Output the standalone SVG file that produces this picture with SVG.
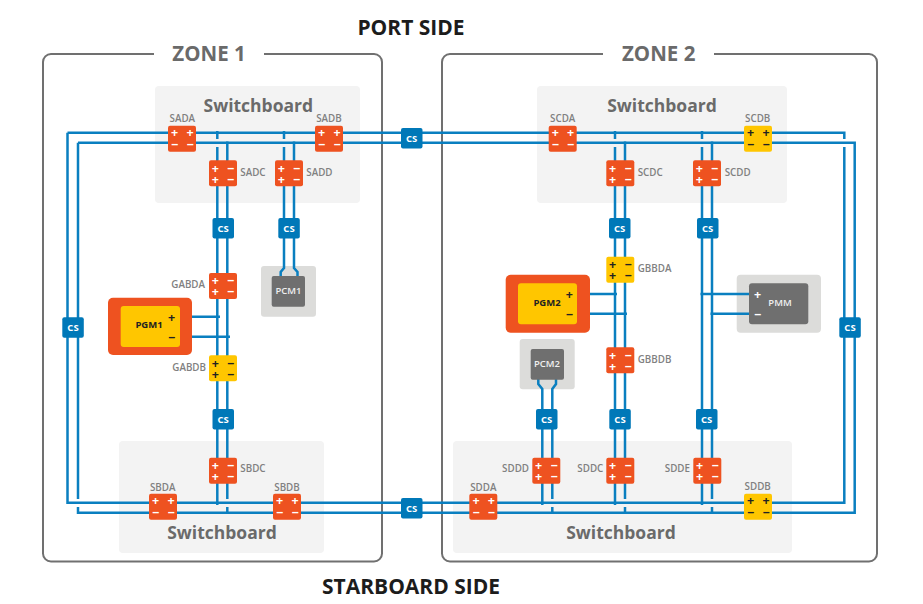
<svg xmlns="http://www.w3.org/2000/svg" width="923" height="604" viewBox="0 0 923 604">
<style>
text{font-family:"Open Sans","Noto Sans","Liberation Sans",sans-serif}
.zone{fill:none;stroke:#707070;stroke-width:2}
.sb{fill:#f3f3f3}
.sbt{font-size:17.5px;font-weight:700;fill:#6a6a6a;text-anchor:middle}
.zt{font-size:20.500px;font-weight:700;fill:#6a6a6a;text-anchor:middle}
.side{font-size:21px;font-weight:700;fill:#1c1c1c;text-anchor:middle}
.w{fill:none;stroke:#0a7fc0;stroke-width:2.5}
.or{fill:#ee5220}
.ye{fill:#ffc600}
.bl{fill:#0078b8}
.dk{fill:#6f6f6f}
.lg{fill:#dcdcda}
.l{font-size:9.800px;font-weight:600;fill:#808080}
.c{text-anchor:middle}
.e{text-anchor:end}
.p{font-size:12.500px;font-weight:700;text-anchor:middle;fill:#fff}
.k{fill:#222}
.cs{font-size:9.500px;font-weight:700;fill:#fff;text-anchor:middle}
.n{font-size:9.500px;font-weight:700;text-anchor:middle;fill:#222}
.m{font-size:9.500px;font-weight:600;text-anchor:middle;fill:#f0f0f0}
</style>
<text class="side" x="411" y="35">PORT SIDE</text>
<text class="side" x="411" y="594">STARBOARD SIDE</text>
<g id="zone1">
<path class="zone" d="M154 54H51a8 8 0 0 0-8 8V553.500a8 8 0 0 0 8 8H374a8 8 0 0 0 8-8V62a8 8 0 0 0-8-8H264"/>
<text class="zt" x="209" y="60.700">ZONE 1</text>
</g>
<g id="zone2">
<path class="zone" d="M603 54H450a8 8 0 0 0-8 8V553.500a8 8 0 0 0 8 8H869a8 8 0 0 0 8-8V62a8 8 0 0 0-8-8H714"/>
<text class="zt" x="658.700" y="60.700">ZONE 2</text>
</g>
<g id="switchboard-sa"><rect class="sb" x="155" y="86" width="205" height="117" rx="4"/><text class="sbt" x="258.300" y="112.300">Switchboard</text></g>
<g id="switchboard-sb"><rect class="sb" x="119" y="441" width="205" height="112" rx="4"/><text class="sbt" x="222" y="539.300">Switchboard</text></g>
<g id="switchboard-sc"><rect class="sb" x="537" y="86" width="250" height="117" rx="4"/><text class="sbt" x="662" y="112.300">Switchboard</text></g>
<g id="switchboard-sd"><rect class="sb" x="453" y="441" width="339" height="112" rx="4"/><text class="sbt" x="621" y="539.300">Switchboard</text></g>
<g id="PCM1-bg"><rect class="lg" x="261" y="266" width="55" height="50.700" rx="3"/></g>
<g id="PCM2-bg"><rect class="lg" x="519.700" y="339" width="55" height="50.300" rx="3"/></g>
<g id="PMM-bg"><rect class="lg" x="736.700" y="274.700" width="84.300" height="58" rx="4"/></g>
<g id="connectors">
<path class="w" d="M67.500 132.700H844.300V139M844.300 147V502.700H67.500V132.700"/>
<path class="w" d="M78 142.700H854.700V512.700H78V507M78 499V142.700"/>
<path class="w" d="M217.300 131V139M217.300 147V505M227.300 141.500V499M227.300 507V514"/>
<path class="w" d="M284 131V139M284 147V268L280.700 272V277M294 141.500V268L297.500 272V277"/>
<path class="w" d="M615 131V139M615 147V505M625 141.500V499M625 507V514"/>
<path class="w" d="M702 131V139M702 147V505M712 141.500V499M712 507V514"/>
<path class="w" d="M538.300 379V384L542.300 389V505M556 379V384L552.300 389V499M552.300 507V514"/>
<path class="w" d="M180 316.700H220M180 336.700H230"/>
<path class="w" d="M577 294H617M577 313.700H627"/>
<path class="w" d="M749 294H700.500M749 313.700H710.500"/>
</g>
<g id="PGM1"><rect class="or" x="108" y="297.700" width="84" height="57.300" rx="5"/><rect class="ye" x="120.700" y="306" width="59.300" height="41" rx="3"/><text class="n" x="149" y="328">PGM1</text><text class="p k" x="171.700" y="322">+</text><text class="p k" x="171.700" y="342">−</text></g>
<g id="PGM2"><rect class="or" x="505.700" y="274.700" width="84.300" height="58" rx="5"/><rect class="ye" x="518" y="283.300" width="59" height="41" rx="3"/><text class="n" x="547" y="306">PGM2</text><text class="p k" x="569.300" y="298.500">+</text><text class="p k" x="569.300" y="318.500">−</text></g>
<g id="PMM"><rect class="dk" x="749" y="283.300" width="59.300" height="41" rx="3"/><text class="m" x="780" y="306">PMM</text><text class="p" x="757.700" y="298.500">+</text><text class="p" x="757.700" y="318.500">−</text></g>
<g id="PCM1"><rect class="dk" x="271.700" y="276" width="33.300" height="30.700" rx="2"/><text class="m" x="288.500" y="294">PCM1</text></g>
<g id="PCM2"><rect class="dk" x="530.700" y="349" width="33.300" height="30.700" rx="2"/><text class="m" x="547" y="367.300">PCM2</text></g>
<g id="SADA"><rect class="or" x="168" y="125.700" width="28" height="26" rx="2"/><text class="p" x="174.700" y="137">+</text><text class="p" x="190" y="137">+</text><text class="p" x="174.700" y="148.500">−</text><text class="p" x="190" y="148.500">−</text><text class="l c" x="182.300" y="122">SADA</text></g>
<g id="SADB"><rect class="or" x="315" y="125.700" width="28" height="26" rx="2"/><text class="p" x="321.700" y="137">+</text><text class="p" x="337" y="137">+</text><text class="p" x="321.700" y="148.500">−</text><text class="p" x="337" y="148.500">−</text><text class="l c" x="329" y="122">SADB</text></g>
<g id="SADC"><rect class="or" x="209" y="160.300" width="28" height="26" rx="2"/><text class="p" x="215.300" y="172.500">+</text><text class="p" x="230.700" y="172.500">−</text><text class="p" x="215.300" y="183.500">+</text><text class="p" x="230.700" y="183.500">−</text><text class="l" x="240.300" y="175.700">SADC</text></g>
<g id="SADD"><rect class="or" x="275" y="160.300" width="28" height="26" rx="2"/><text class="p" x="281.300" y="172.500">+</text><text class="p" x="296.700" y="172.500">−</text><text class="p" x="281.300" y="183.500">+</text><text class="p" x="296.700" y="183.500">−</text><text class="l" x="306.300" y="175.700">SADD</text></g>
<g id="GABDA"><rect class="or" x="209" y="273" width="28" height="26" rx="2"/><text class="p" x="215.300" y="285.200">+</text><text class="p" x="230.700" y="285.200">−</text><text class="p" x="215.300" y="296.200">+</text><text class="p" x="230.700" y="296.200">−</text><text class="l e" x="205" y="288">GABDA</text></g>
<g id="GABDB"><rect class="ye" x="209" y="355.300" width="28" height="26" rx="2"/><text class="p k" x="215.300" y="367.500">+</text><text class="p k" x="230.700" y="367.500">−</text><text class="p k" x="215.300" y="378.500">+</text><text class="p k" x="230.700" y="378.500">−</text><text class="l e" x="206" y="370.700">GABDB</text></g>
<g id="SBDC"><rect class="or" x="209" y="457.700" width="28" height="26" rx="2"/><text class="p" x="215.300" y="469.900">+</text><text class="p" x="230.700" y="469.900">−</text><text class="p" x="215.300" y="480.900">+</text><text class="p" x="230.700" y="480.900">−</text><text class="l" x="240.300" y="472">SBDC</text></g>
<g id="SBDA"><rect class="or" x="149" y="493.700" width="28" height="26" rx="2"/><text class="p" x="155.700" y="505">+</text><text class="p" x="171" y="505">+</text><text class="p" x="155.700" y="516.500">−</text><text class="p" x="171" y="516.500">−</text><text class="l c" x="162.700" y="490.700">SBDA</text></g>
<g id="SBDB"><rect class="or" x="273" y="493.700" width="28" height="26" rx="2"/><text class="p" x="279.700" y="505">+</text><text class="p" x="295" y="505">+</text><text class="p" x="279.700" y="516.500">−</text><text class="p" x="295" y="516.500">−</text><text class="l c" x="287" y="490.700">SBDB</text></g>
<g id="SCDA"><rect class="or" x="548.700" y="125.700" width="28" height="26" rx="2"/><text class="p" x="555.400" y="137">+</text><text class="p" x="570.700" y="137">+</text><text class="p" x="555.400" y="148.500">−</text><text class="p" x="570.700" y="148.500">−</text><text class="l c" x="562.700" y="122">SCDA</text></g>
<g id="SCDB"><rect class="ye" x="744" y="125.700" width="28" height="26" rx="2"/><text class="p k" x="750.700" y="137">+</text><text class="p k" x="766" y="137">+</text><text class="p k" x="750.700" y="148.500">−</text><text class="p k" x="766" y="148.500">−</text><text class="l c" x="757.700" y="122">SCDB</text></g>
<g id="SCDC"><rect class="or" x="606.300" y="160.300" width="28" height="26" rx="2"/><text class="p" x="612.600" y="172.500">+</text><text class="p" x="628" y="172.500">−</text><text class="p" x="612.600" y="183.500">+</text><text class="p" x="628" y="183.500">−</text><text class="l" x="637.700" y="175.700">SCDC</text></g>
<g id="SCDD"><rect class="or" x="693" y="160.300" width="28" height="26" rx="2"/><text class="p" x="699.300" y="172.500">+</text><text class="p" x="714.700" y="172.500">−</text><text class="p" x="699.300" y="183.500">+</text><text class="p" x="714.700" y="183.500">−</text><text class="l" x="724.700" y="175.700">SCDD</text></g>
<g id="GBBDA"><rect class="ye" x="606.300" y="256.700" width="28" height="26" rx="2"/><text class="p k" x="612.600" y="268.900">+</text><text class="p k" x="628" y="268.900">−</text><text class="p k" x="612.600" y="279.900">+</text><text class="p k" x="628" y="279.900">−</text><text class="l" x="637.700" y="272">GBBDA</text></g>
<g id="GBBDB"><rect class="or" x="606.300" y="347.300" width="28" height="26" rx="2"/><text class="p" x="612.600" y="359.500">+</text><text class="p" x="628" y="359.500">−</text><text class="p" x="612.600" y="370.500">+</text><text class="p" x="628" y="370.500">−</text><text class="l" x="637.700" y="362.700">GBBDB</text></g>
<g id="SDDD"><rect class="or" x="532.300" y="457.700" width="28" height="26" rx="2"/><text class="p" x="538.600" y="469.900">+</text><text class="p" x="554" y="469.900">−</text><text class="p" x="538.600" y="480.900">+</text><text class="p" x="554" y="480.900">−</text><text class="l e" x="529" y="472">SDDD</text></g>
<g id="SDDC"><rect class="or" x="606.300" y="457.700" width="28" height="26" rx="2"/><text class="p" x="612.600" y="469.900">+</text><text class="p" x="628" y="469.900">−</text><text class="p" x="612.600" y="480.900">+</text><text class="p" x="628" y="480.900">−</text><text class="l e" x="603.300" y="472">SDDC</text></g>
<g id="SDDE"><rect class="or" x="693.300" y="457.700" width="28" height="26" rx="2"/><text class="p" x="699.600" y="469.900">+</text><text class="p" x="715" y="469.900">−</text><text class="p" x="699.600" y="480.900">+</text><text class="p" x="715" y="480.900">−</text><text class="l e" x="690" y="472">SDDE</text></g>
<g id="SDDA"><rect class="or" x="469.300" y="493.700" width="28" height="26" rx="2"/><text class="p" x="476" y="505">+</text><text class="p" x="491.300" y="505">+</text><text class="p" x="476" y="516.500">−</text><text class="p" x="491.300" y="516.500">−</text><text class="l c" x="483.300" y="490.700">SDDA</text></g>
<g id="SDDB"><rect class="ye" x="744" y="493.700" width="28" height="26" rx="2"/><text class="p k" x="750.700" y="505">+</text><text class="p k" x="766" y="505">+</text><text class="p k" x="750.700" y="516.500">−</text><text class="p k" x="766" y="516.500">−</text><text class="l c" x="757.700" y="490">SDDB</text></g>
<g id="CS1"><rect class="bl" x="401" y="128" width="21.500" height="20.500" rx="2"/><text class="cs" x="411.700" y="141.700">CS</text></g>
<g id="CS2"><rect class="bl" x="401" y="498" width="21.500" height="20.500" rx="2"/><text class="cs" x="411.700" y="511.700">CS</text></g>
<g id="CS3"><rect class="bl" x="62.300" y="317.300" width="21.500" height="20.500" rx="2"/><text class="cs" x="73" y="331">CS</text></g>
<g id="CS4"><rect class="bl" x="839.300" y="317.300" width="21.500" height="20.500" rx="2"/><text class="cs" x="850" y="331">CS</text></g>
<g id="CS5"><rect class="bl" x="212.500" y="218" width="21.500" height="20.500" rx="2"/><text class="cs" x="223.200" y="231.700">CS</text></g>
<g id="CS6"><rect class="bl" x="278.300" y="218" width="21.500" height="20.500" rx="2"/><text class="cs" x="289" y="231.700">CS</text></g>
<g id="CS7"><rect class="bl" x="212.500" y="409" width="21.500" height="20.500" rx="2"/><text class="cs" x="223.200" y="422.700">CS</text></g>
<g id="CS8"><rect class="bl" x="609" y="218" width="21.500" height="20.500" rx="2"/><text class="cs" x="619.700" y="231.700">CS</text></g>
<g id="CS9"><rect class="bl" x="697" y="218" width="21.500" height="20.500" rx="2"/><text class="cs" x="707.700" y="231.700">CS</text></g>
<g id="CS10"><rect class="bl" x="536" y="409" width="21.500" height="20.500" rx="2"/><text class="cs" x="546.700" y="422.700">CS</text></g>
<g id="CS11"><rect class="bl" x="609.300" y="409" width="21.500" height="20.500" rx="2"/><text class="cs" x="620" y="422.700">CS</text></g>
<g id="CS12"><rect class="bl" x="696" y="409" width="21.500" height="20.500" rx="2"/><text class="cs" x="706.700" y="422.700">CS</text></g>
</svg>
